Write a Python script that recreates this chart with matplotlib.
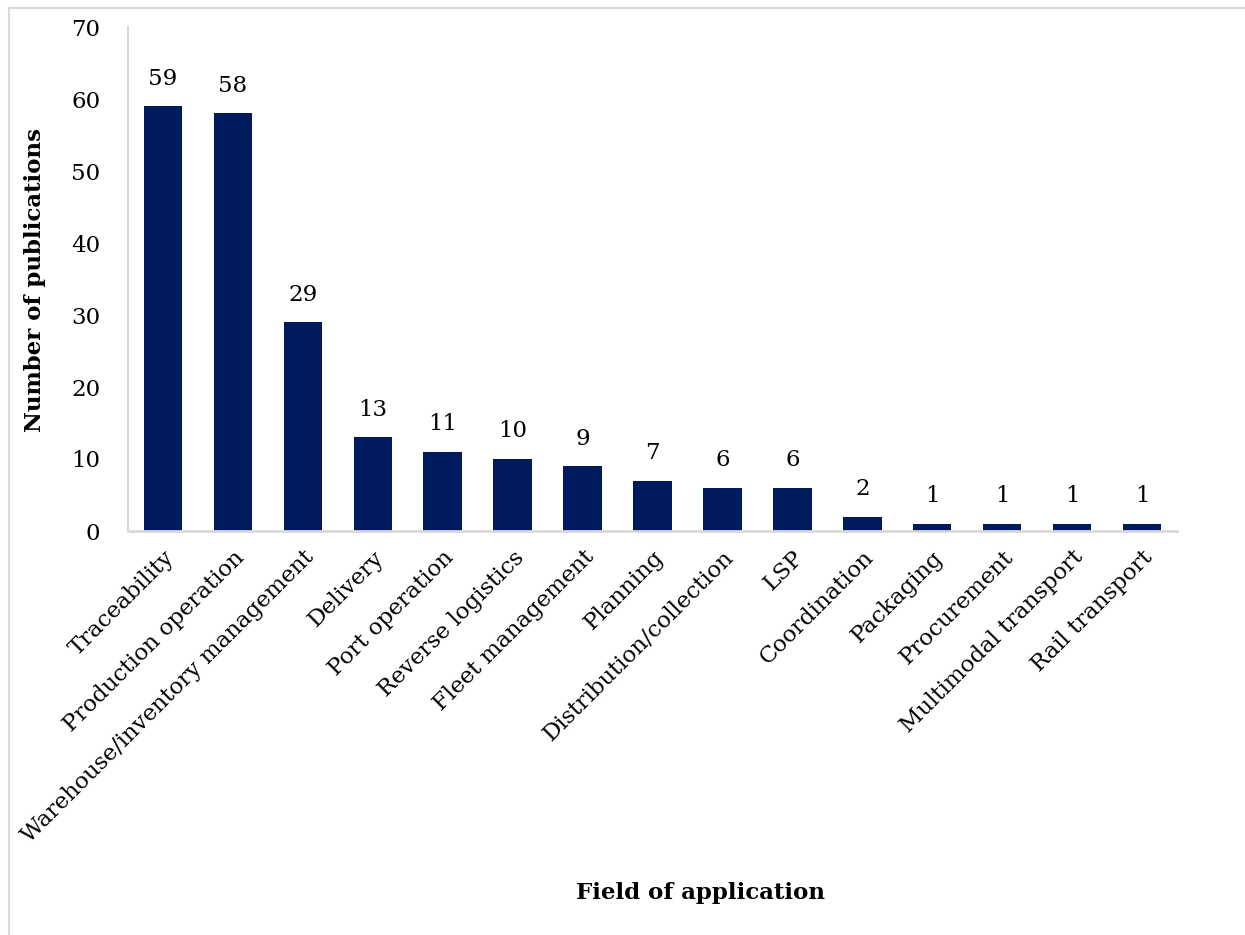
import matplotlib
matplotlib.use("Agg")
import matplotlib.pyplot as plt
from matplotlib.patches import Rectangle

categories = ["Traceability", "Production operation", "Warehouse/inventory management",
              "Delivery", "Port operation", "Reverse logistics", "Fleet management",
              "Planning", "Distribution/collection", "LSP", "Coordination", "Packaging",
              "Procurement", "Multimodal transport", "Rail transport"]
values = [59, 58, 29, 13, 11, 10, 9, 7, 6, 6, 2, 1, 1, 1, 1]
yticks = [0, 10, 20, 30, 40, 50, 60, 70]

plt.rcParams['font.family'] = ['DejaVu Serif']
FS = 16.5
W, H = 1245, 935
fig = plt.figure(figsize=(W/100, H/100), dpi=100)
# outer frame
fig.patches.append(Rectangle((9/W, -0.2), 1.2, 1.2 - 8/H, transform=fig.transFigure,
                             fill=False, edgecolor='#d9d9d9', linewidth=1.5))
ax = fig.add_axes([128/W, 1 - 531/H, (1177-128)/W, (531-27)/H])
x = list(range(len(categories)))
ax.bar(x, values, width=0.55, color='#001a5e')
for xi, v in zip(x, values):
    ax.annotate(str(v), (xi, v), xytext=(0, 12), textcoords='offset points',
                ha='center', va='bottom', fontsize=FS)
ax.set_xlim(-0.5, len(categories) - 0.5)
ax.set_ylim(0, 70)
ax.set_yticks(yticks)
ax.set_yticklabels([str(t) for t in yticks], fontsize=FS)
ax.set_xticks(x)
ax.set_xticklabels(categories, rotation=45, ha='right', rotation_mode='anchor', fontsize=FS)
ax.tick_params(axis='both', length=0)
ax.tick_params(axis='y', pad=20)
ax.tick_params(axis='x', pad=11)
for s in ['top', 'right']:
    ax.spines[s].set_visible(False)
ax.spines['left'].set_color('#d9d9d9')
ax.spines['bottom'].set_color('#d9d9d9')
ax.spines['left'].set_linewidth(1.5)
ax.spines['bottom'].set_linewidth(2)
fig.text(700/W, 1 - 893/H, "Field of application", ha='center', va='center',
         fontsize=FS, fontweight='bold')
fig.text(35/W, 1 - 280/H, "Number of publications", ha='center', va='center',
         rotation=90, fontsize=FS, fontweight='bold')
fig.savefig("out.png", dpi=100)
